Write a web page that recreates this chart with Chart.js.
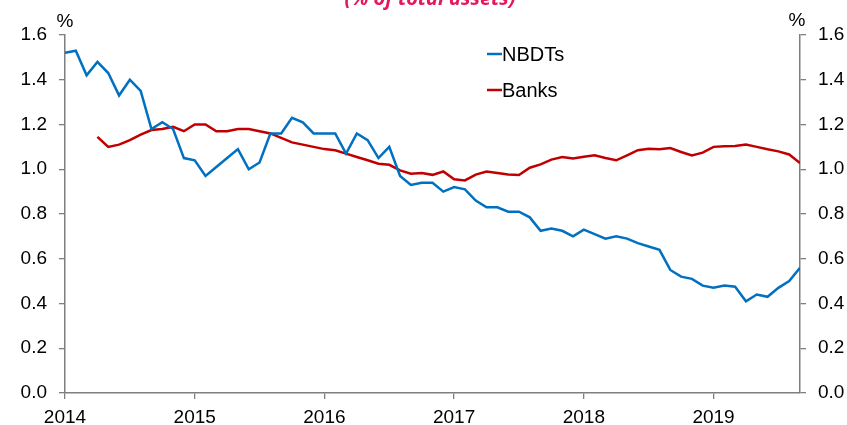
<!DOCTYPE html>
<html>
<head>
<meta charset="utf-8">
<script src="https://cdn.jsdelivr.net/npm/chart.js@4.4.1/dist/chart.umd.min.js"></script>
<style>
  html, body { margin: 0; padding: 0; background: #fff; }
  #wrap { width: 847px; height: 425px; }
</style>
</head>
<body>
<div id="wrap"><canvas id="myChart" width="847" height="425"></canvas></div>
<script>
// monthly observations, Jan 2014 .. Sep 2019
var startYear = 2014;
var yearLabels = ["2014", "2015", "2016", "2017", "2018", "2019"];
var yTicks = [0.0, 0.2, 0.4, 0.6, 0.8, 1.0, 1.2, 1.4, 1.6];
var seriesNames = ["NBDTs", "Banks"];
var seriesColors = ["#0070C0", "#C00000"];
var nbdts = [1.52, 1.53, 1.42, 1.48, 1.43, 1.33, 1.40, 1.35, 1.18, 1.21, 1.18, 1.05,
             1.04, 0.97, 1.01, 1.05, 1.09, 1.00, 1.03, 1.16, 1.16, 1.23, 1.21, 1.16,
             1.16, 1.16, 1.07, 1.16, 1.13, 1.05, 1.10, 0.97, 0.93, 0.94, 0.94, 0.90,
             0.92, 0.91, 0.86, 0.83, 0.83, 0.81, 0.81, 0.785, 0.725, 0.735, 0.725, 0.70,
             0.73, 0.71, 0.69, 0.70, 0.69, 0.67, 0.655, 0.64, 0.55, 0.52, 0.51, 0.48,
             0.47, 0.48, 0.475, 0.41, 0.44, 0.43, 0.47, 0.50, 0.56];
var banks = [null, null, null, 1.145, 1.10, 1.11, 1.13, 1.155, 1.175, 1.18, 1.19, 1.17,
             1.20, 1.20, 1.17, 1.17, 1.18, 1.18, 1.17, 1.16, 1.14, 1.12, 1.11, 1.10,
             1.09, 1.085, 1.07, 1.055, 1.04, 1.025, 1.02, 0.995, 0.98, 0.983, 0.975, 0.99,
             0.955, 0.95, 0.976, 0.99, 0.983, 0.977, 0.974, 1.007, 1.022, 1.043, 1.055, 1.048,
             1.056, 1.062, 1.05, 1.04, 1.062, 1.085, 1.092, 1.089, 1.095, 1.077, 1.062, 1.074,
             1.10, 1.103, 1.104, 1.111, 1.10, 1.089, 1.08, 1.066, 1.028];
var titleText = "(% of total assets)";

function toPoints(arr) {
  return arr.map(function (v, i) { return { x: i, y: v }; });
}

var axisGrey = "#7f7f7f";
var tickFont = { family: "Arial, 'Liberation Sans'", size: 19 };

//====================== extra text: title, % units, legend ======================//
var decorations = {
  id: "decorations",
  afterDraw: function (chart) {
    var c = chart.ctx, area = chart.chartArea;
    c.save();
    // title (cut at the top in the original)
    c.fillStyle = "#E6175C";
    c.font = "italic bold 20px 'Open Sans'";
    c.textAlign = "center";
    c.textBaseline = "alphabetic";
    c.fillText(titleText, 430, 5);
    // % labels
    c.fillStyle = "#000";
    c.font = "19px Arial, 'Liberation Sans'";
    c.textBaseline = "middle";
    c.fillText("%", area.left, 22);
    c.fillText("%", area.right - 3, 21);
    // legend
    c.font = "20px Arial, 'Liberation Sans'";
    c.textAlign = "left";
    chart.data.datasets.forEach(function (ds, i) {
      var y = 54 + i * 36;
      c.strokeStyle = ds.borderColor;
      c.lineWidth = 2.5;
      c.beginPath();
      c.moveTo(487, y);
      c.lineTo(502, y);
      c.stroke();
      c.fillText(ds.label, 502, y + 1);
    });
    c.restore();
  }
};

var ctx = document.getElementById("myChart").getContext("2d");
new Chart(ctx, {
  type: "line",
  data: {
    datasets: [
      { label: seriesNames[0], data: toPoints(nbdts), borderColor: seriesColors[0],
        borderWidth: 2.5, pointRadius: 0, tension: 0, yAxisID: "y" },
      { label: seriesNames[1], data: toPoints(banks), borderColor: seriesColors[1],
        borderWidth: 2.5, pointRadius: 0, tension: 0, yAxisID: "y" }
    ]
  },
  options: {
    responsive: false,
    animation: false,
    layout: { padding: { top: 35, left: 0, right: 0, bottom: 0 } },
    plugins: { legend: { display: false }, tooltip: { enabled: false }, title: { display: false } },
    scales: {
      x: {
        type: "linear",
        min: 0,
        max: nbdts.length - 1,
        afterBuildTicks: function (scale) {
          scale.ticks = yearLabels.map(function (l, i) { return { value: i * 12 }; });
        },
        afterFit: function (scale) { scale.height = 32; },
        ticks: {
          font: tickFont, color: "#000", padding: 7, maxRotation: 0,
          callback: function (v) { return String(startYear + v / 12); }
        },
        grid: { drawOnChartArea: false, tickLength: 6, color: axisGrey, lineWidth: 1.3 },
        border: { color: axisGrey, width: 1.5 }
      },
      y: {
        position: "left",
        min: 0, max: 1.6,
        afterBuildTicks: function (scale) {
          scale.ticks = yTicks.map(function (v) { return { value: v }; });
        },
        afterFit: function (scale) { scale.width = 65; },
        ticks: { font: tickFont, color: "#000", padding: 12,
          callback: function (v) { return v.toFixed(1); } },
        grid: { drawOnChartArea: false, tickLength: 6, color: axisGrey, lineWidth: 1.3 },
        border: { color: axisGrey, width: 1.5 }
      },
      y2: {
        position: "right",
        min: 0, max: 1.6,
        afterBuildTicks: function (scale) {
          scale.ticks = yTicks.map(function (v) { return { value: v }; });
        },
        afterFit: function (scale) { scale.width = 47; },
        ticks: { font: tickFont, color: "#000", padding: 12,
          callback: function (v) { return v.toFixed(1); } },
        grid: { drawOnChartArea: false, tickLength: 6, color: axisGrey, lineWidth: 1.3 },
        border: { color: axisGrey, width: 1.5 }
      }
    }
  },
  plugins: [decorations]
});
</script>
</body>
</html>
